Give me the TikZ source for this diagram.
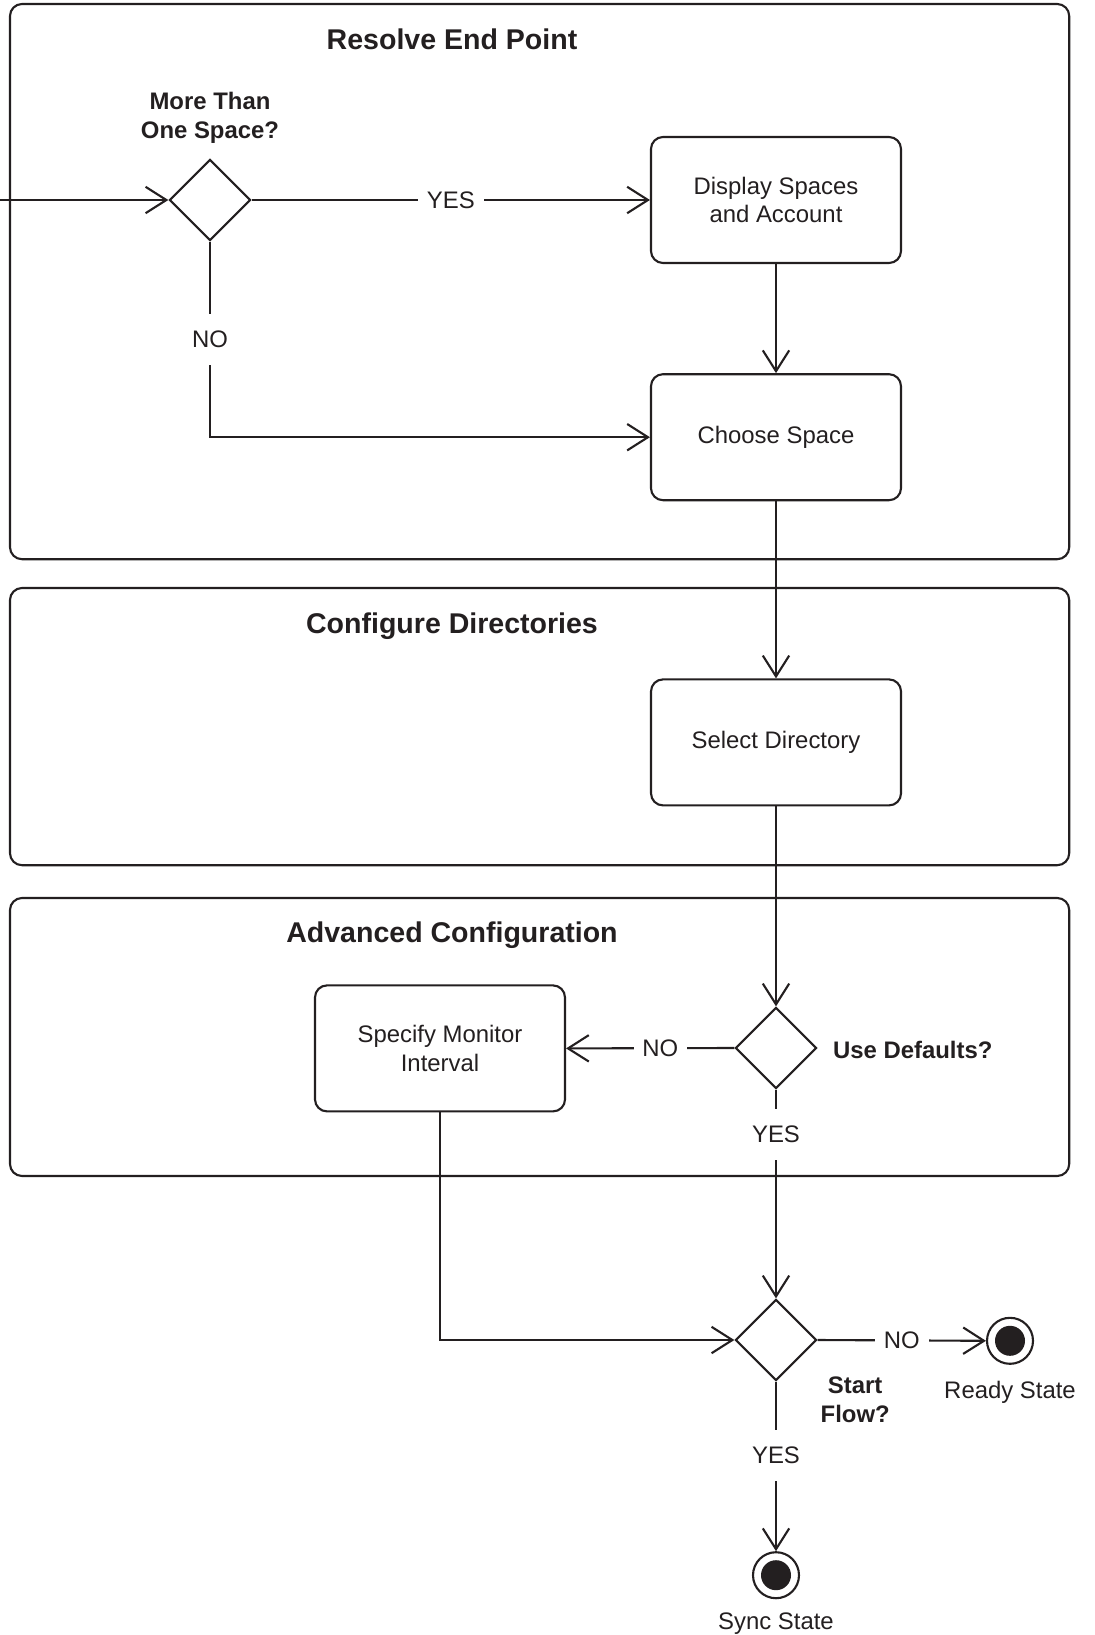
\documentclass[tikz,border=0pt]{standalone}
\usepackage{fontspec}
\setmainfont{Liberation Sans}
\usetikzlibrary{shapes.geometric,arrows.meta}
\definecolor{ink}{HTML}{231F20}
\begin{document}
\begin{tikzpicture}[
	line width=1.5pt, text=ink,
	font=\fontsize{17}{20.3}\selectfont,
	group/.style={draw=ink, rounded corners=0.30cm},
	grouptitle/.style={anchor=base, inner sep=0, font=\fontsize{20.3}{24}\selectfont\bfseries},
	activity/.style={draw=ink, rounded corners=0.30cm, minimum width=6.25cm, minimum height=3.15cm, align=center, inner sep=0},
	decision/.style={draw=ink, diamond, minimum width=2.03cm, minimum height=2.03cm, inner sep=0},
	question/.style={align=center, inner sep=0, font=\fontsize{17}{20.3}\selectfont\bfseries},
	endstate/.style={draw=ink, circle, minimum size=1.15cm, inner sep=0,
		path picture={\fill[ink] (path picture bounding box.center) circle[radius=0.375cm];}},
	statename/.style={anchor=base, inner sep=0},
	flow/.style={draw=ink, -{Straight Barb[length=0.52cm, width=0.66cm]}},
	guard/.style={fill=white, inner xsep=0.22cm, inner ysep=0.42cm}
]
	\useasboundingbox (0,0) rectangle (27.35,-40.875);
	% swimlane groups
	\draw[group] (0.25,-0.10) rectangle (26.73,-13.98);
	\draw[group] (0.25,-14.70) rectangle (26.73,-21.63);
	\draw[group] (0.25,-22.45) rectangle (26.73,-29.40);
	\node[grouptitle] (t1) at (11.30,-1.25) {Resolve End Point};
	\node[grouptitle] (t2) at (11.30,-15.83) {Configure Directories};
	\node[grouptitle] (t3) at (11.30,-23.55) {Advanced Configuration};
	% nodes
	\coordinate (in) at (0.00,-5.00);
	\node[decision] (spaces) at (5.25,-5.00) {};
	\node[question, anchor=north] (spacesq) at (5.25,-2.28) {More Than\\One Space?};
	\node[activity] (display) at (19.40,-5.00) {Display Spaces\\and Account};
	\node[activity] (choose) at (19.40,-10.93) {Choose Space};
	\node[activity] (selectdir) at (19.40,-18.56) {Select Directory};
	\node[activity] (monitor) at (11.00,-26.21) {Specify Monitor\\Interval};
	\node[decision] (defaults) at (19.40,-26.20) {};
	\node[question, anchor=base west] (defaultsq) at (20.80,-26.45) {Use Defaults?};
	\node[decision] (startflow) at (19.40,-33.50) {};
	\node[question, anchor=north] (startflowq) at (21.38,-34.40) {Start\\Flow?};
	\node[endstate] (ready) at (25.25,-33.52) {};
	\node[statename] (readyname) at (25.25,-34.95) {Ready State};
	\node[endstate] (sync) at (19.40,-39.38) {};
	\node[statename] (syncname) at (19.40,-40.73) {Sync State};
	% connectors
	\draw[flow] (in) -- (spaces.west);
	\draw[flow] (spaces.east) -- node[guard] {YES} (display.west);
	\draw[flow] (spaces.south) |- node[guard, pos=0.25] {NO} (choose.west);
	\draw[flow] (display.south) -- (choose.north);
	\draw[flow] (choose.south) -- (selectdir.north);
	\draw[flow] (selectdir.south) -- (defaults.north);
	\draw[flow] (defaults.west) -- node[guard, pos=0.44] {NO} (monitor.east);
	\draw[flow] (defaults.south) -- node[guard, pos=0.214] {YES} (startflow.north);
	\draw[flow] (monitor.south) |- (startflow.west);
	\draw[flow] (startflow.east) -- node[guard] {NO} (ready.west);
	\draw[flow] (startflow.south) -- node[guard, pos=0.436] {YES} (sync.north);
\end{tikzpicture}
\end{document}
